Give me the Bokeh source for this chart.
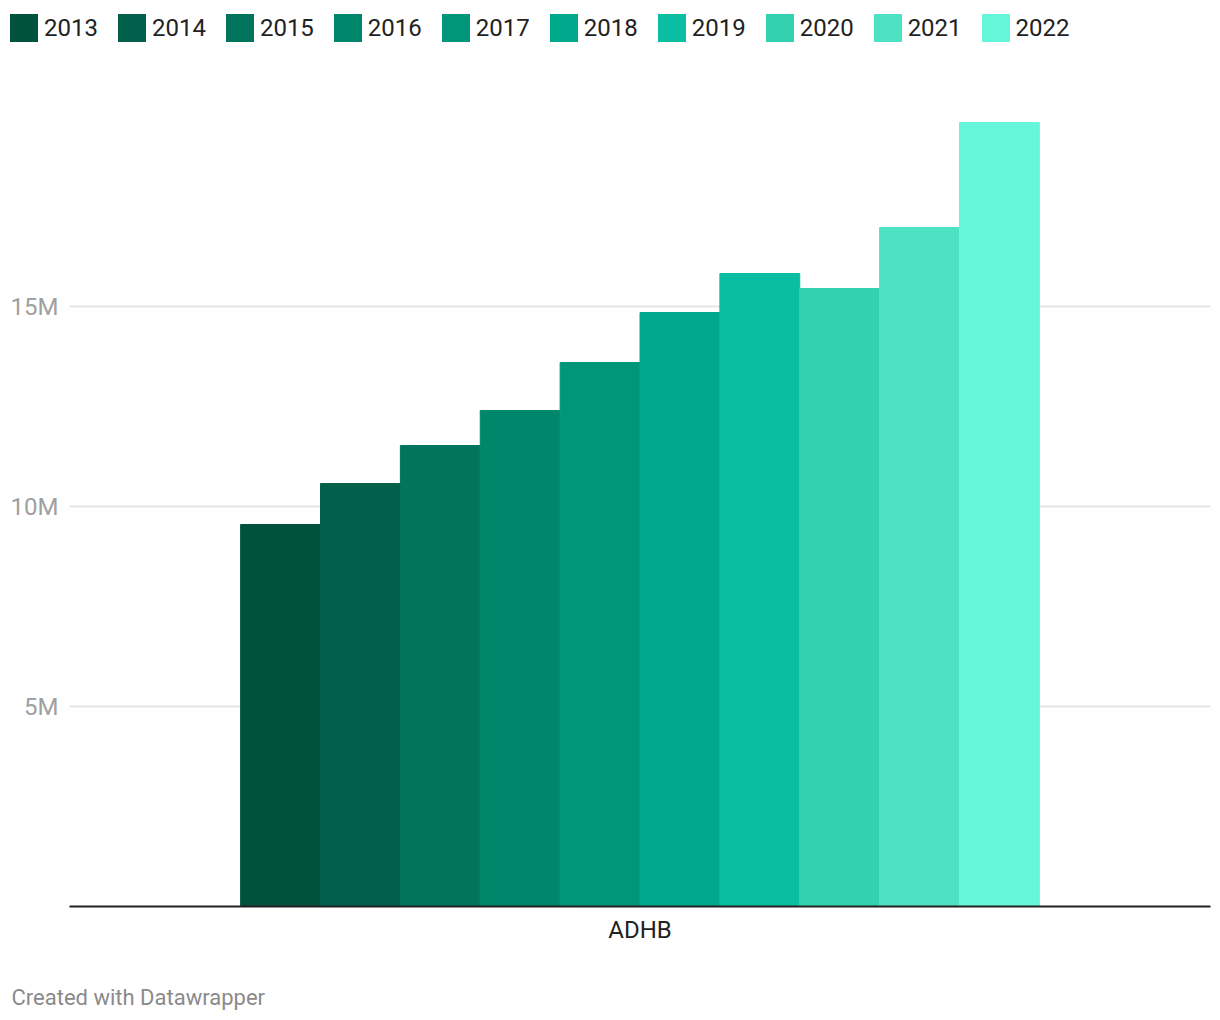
from bokeh.plotting import figure
from bokeh.models import (Range1d, FactorRange, FixedTicker, Legend, LegendItem,
                          Label, ColumnDataSource)
from bokeh.layouts import column
from bokeh.transform import dodge
from bokeh.embed import file_html
from bokeh.resources import INLINE

# ---- data ----
region = ["ADHB"]
years = ["2013", "2014", "2015", "2016", "2017", "2018", "2019", "2020", "2021", "2022"]
values_m = [9.55, 10.575, 11.525, 12.4, 13.6, 14.85, 15.825, 15.45, 16.975, 19.6]
colors = ["#00513d", "#00604c", "#00755b", "#00866b", "#00967a",
          "#00a98c", "#0abea2", "#34d1b0", "#4de2c3", "#66f7da"]
y_ticks = [5, 10, 15]
y_tick_labels = ["5M", "10M", "15M"]
credit_text = "Created with Datawrapper"

FONT = "Roboto"
LEG_H = 60
FOOT_H = 60
W, H = 1220, 1020


def strip(height):
    return figure(width=W, height=height,
                  x_range=FactorRange(factors=region, range_padding=0),
                  y_range=Range1d(0, 1),
                  x_axis_type=None, y_axis_type=None,
                  output_backend="svg", toolbar_location=None,
                  min_border=0, min_border_left=0, min_border_right=0,
                  min_border_top=0, min_border_bottom=0,
                  outline_line_color=None, frame_align=False,
                  background_fill_color="white", border_fill_color="white")


# ---- legend strip ----
p_leg = strip(LEG_H)

# ---- main chart ----
p = figure(width=W, height=H - LEG_H - FOOT_H,
           x_range=FactorRange(factors=region, range_padding=0),
           y_range=Range1d(0, 20.1),
           output_backend="svg", toolbar_location=None,
           min_border_left=69, min_border_right=10,
           min_border_top=102 - LEG_H, min_border_bottom=54,
           outline_line_color=None, frame_align=False,
           background_fill_color="white", border_fill_color="white")

n = len(years)
bw = 0.7 / n
items = []
for i, (yr, v, c) in enumerate(zip(years, values_m, colors)):
    src = ColumnDataSource(dict(x=region, top=[v]))
    off = (i - (n - 1) / 2) * bw
    p.vbar(x=dodge("x", off, range=p.x_range), top="top", width=bw, source=src,
           fill_color=c, line_color=c, line_width=1)
    # same bar in the legend strip, hidden: only its legend swatch is shown
    r_leg = p_leg.vbar(x=dodge("x", off, range=p_leg.x_range), top="top", width=bw,
                       source=src, fill_color=c, line_color=None, visible=False)
    items.append(LegendItem(label=yr, renderers=[r_leg]))

# y axis
p.yaxis.ticker = FixedTicker(ticks=y_ticks)
p.yaxis.major_label_overrides = {t: l for t, l in zip(y_ticks, y_tick_labels)}
p.yaxis.axis_line_color = None
p.yaxis.major_tick_line_color = None
p.yaxis.minor_tick_line_color = None
p.yaxis.major_label_standoff = 5
p.yaxis.major_label_text_font = FONT
p.yaxis.major_label_text_font_size = "24px"
p.yaxis.major_label_text_color = "#a0a0a0"

p.ygrid.ticker = FixedTicker(ticks=y_ticks)
p.ygrid.grid_line_color = "#e5e5e5"
p.ygrid.grid_line_width = 2
p.xgrid.visible = False

# x axis
p.xaxis.axis_line_color = "#222222"
p.xaxis.axis_line_width = 2
p.xaxis.major_tick_line_color = None
p.xaxis.minor_tick_line_color = None
p.xaxis.major_label_standoff = 3
p.xaxis.major_label_text_font = FONT
p.xaxis.major_label_text_font_size = "24px"
p.xaxis.major_label_text_color = "#222222"

legend = Legend(items=items, orientation="horizontal", location=(6, 15),
                glyph_width=35, glyph_height=35, label_standoff=3, spacing=16,
                padding=0, margin=0, border_line_color=None, background_fill_alpha=0,
                label_text_font=FONT, label_text_font_size="24px",
                label_text_color="#222222")
p_leg.add_layout(legend)

# ---- footer strip ----
p_foot = strip(FOOT_H)
p_foot.add_layout(Label(x=11, y=23, x_units="screen", y_units="screen",
                        text=credit_text, text_font=FONT, text_font_size="22px",
                        text_color="#8a8a8a", text_baseline="alphabetic",
                        text_align="left"))

open("out.html", "w").write(file_html(column(p_leg, p, p_foot, spacing=0), INLINE))
